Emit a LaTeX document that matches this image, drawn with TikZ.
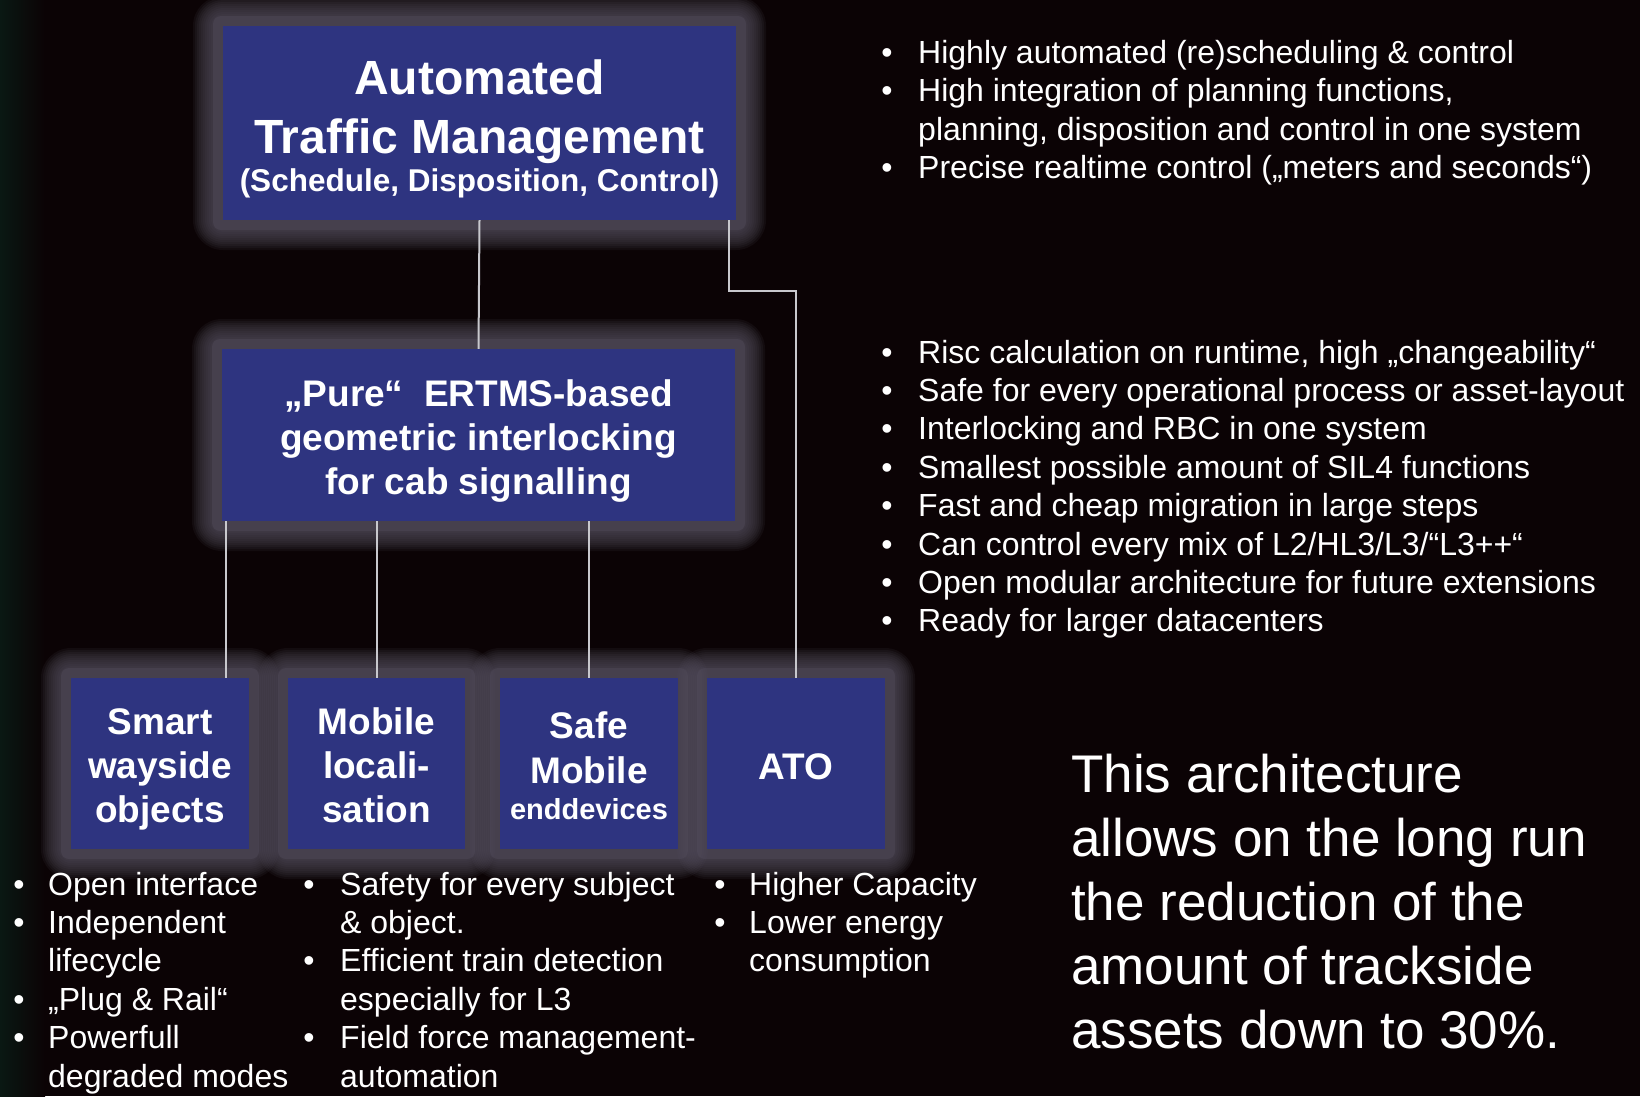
\documentclass[tikz,border=0pt]{standalone}
\usepackage{fontspec}
\setmainfont{Liberation Sans}
\definecolor{bgc}{RGB}{11,3,5}
\definecolor{boxblue}{RGB}{46,52,128}
\definecolor{glowc}{RGB}{84,78,94}
\definecolor{linec}{RGB}{200,200,205}
\definecolor{leftc}{RGB}{10,24,19}
\newcommand\glowrect[4]{%
  \foreach \r in {30,28,26,24,22,20,18,16,14,12}{%
    \fill[glowc,fill opacity=0.12,rounded corners=\r pt] ({#1-\r},{#2-\r}) rectangle ({#3+\r},{#4+\r});
  }%
  \fill[glowc,fill opacity=0.4,rounded corners=8pt] ({#1-10},{#2-10}) rectangle ({#3+10},{#4+10});
}
\tikzset{
  boxnode/.style={fill=boxblue,draw=none,inner sep=0pt},
  btxt/.style={text=white,inner sep=0pt,anchor=base,font=\bfseries\fontsize{37}{44}\selectfont},
  bullet/.style={text=white,inner sep=0pt,anchor=base,font=\fontsize{32}{38}\selectfont},
  ltxt/.style={text=white,inner sep=0pt,anchor=base west,font=\fontsize{32}{38}\selectfont},
  bigtxt/.style={text=white,inner sep=0pt,anchor=base west,font=\fontsize{53}{63}\selectfont},
  conn/.style={draw=linec,line width=2pt}
}
\begin{document}
\begin{tikzpicture}[x=1pt,y=-1pt]
\useasboundingbox (0,0) rectangle (1640,1096);
\fill[bgc] (0,0) rectangle (1640,1096);
\shade[left color=leftc,right color=bgc] (0,0) rectangle (45,1096);
% glows
\glowrect{223}{26}{736}{220}
\glowrect{222}{349}{735}{521}
\glowrect{71}{678}{249}{849}
\glowrect{288}{678}{465}{849}
\glowrect{500}{678}{678}{849}
\glowrect{707}{678}{885}{849}
% boxes
\node[boxnode,minimum width=513pt,minimum height=194pt] (top) at (479.5,123) {};
\node[boxnode,minimum width=513pt,minimum height=172pt] (mid) at (478.5,435) {};
\node[boxnode,minimum width=178pt,minimum height=171pt] (smart) at (160,763.5) {};
\node[boxnode,minimum width=177pt,minimum height=171pt] (mobile) at (376.5,763.5) {};
\node[boxnode,minimum width=178pt,minimum height=171pt] (safe) at (589,763.5) {};
\node[boxnode,minimum width=178pt,minimum height=171pt] (ato) at (796,763.5) {};
% connectors
\coordinate (bend) at (796,291);
\draw[conn] (top.south) -- (mid.north);
\draw[conn] ([xshift=-7pt]top.south east) |- (bend) -- (ato.north);
\draw[conn] ([xshift=4pt]mid.south west) -- ([xshift=4pt]mid.south west |- smart.north);
\draw[conn] (mid.south -| mobile.north) -- (mobile.north);
\draw[conn] (mid.south -| safe.north) -- (safe.north);
% box texts
\node[btxt,font=\bfseries\fontsize{48}{56}\selectfont] (t1) at (479.5,94) {Automated};
\node[btxt,font=\bfseries\fontsize{48}{56}\selectfont] (t2) at (479.5,153) {Traffic Management};
\node[btxt,font=\bfseries\fontsize{31.5}{38}\selectfont] (t3) at (479.5,191) {(Schedule, Disposition, Control)};
\node[btxt] (m1) at (478.5,406) {„Pure“\ \ ERTMS-based};
\node[btxt] (m2) at (478.5,450) {geometric interlocking};
\node[btxt] (m3) at (478.5,494) {for cab signalling};
\node[btxt] (s1) at (160,734) {Smart};
\node[btxt] (s2) at (160,778) {wayside};
\node[btxt] (s3) at (160,822) {objects};
\node[btxt] (l1) at (376.5,734) {Mobile};
\node[btxt] (l2) at (376.5,778) {locali-};
\node[btxt] (l3) at (376.5,822) {sation};
\node[btxt] (e1) at (589,738) {Safe};
\node[btxt] (e2) at (589,783) {Mobile};
\node[btxt,font=\bfseries\fontsize{29}{34}\selectfont] (e3) at (589,819) {enddevices};
\node[btxt] (a1) at (796,779) {ATO};
% top right bullets
\node[bullet] (ba1) at (887,63) {•};
\node[ltxt] (ta1) at (918,63) {Highly automated (re)scheduling \& control};
\node[bullet] (ba2) at (887,101.5) {•};
\node[ltxt] (ta2) at (918,101.5) {High integration of planning functions,};
\node[ltxt] (ta3) at (918,140) {planning, disposition and control in one system};
\node[bullet] (ba4) at (887,178.5) {•};
\node[ltxt] (ta4) at (918,178.5) {Precise realtime control („meters and seconds“)};
% middle right bullets
\node[bullet] (bb1) at (887,363) {•};
\node[ltxt] (tb1) at (918,363) {Risc calculation on runtime, high „changeability“};
\node[bullet] (bb2) at (887,401.4) {•};
\node[ltxt] (tb2) at (918,401.4) {Safe for every operational process or asset-layout};
\node[bullet] (bb3) at (887,439.8) {•};
\node[ltxt] (tb3) at (918,439.8) {Interlocking and RBC in one system};
\node[bullet] (bb4) at (887,478.2) {•};
\node[ltxt] (tb4) at (918,478.2) {Smallest possible amount of SIL4 functions};
\node[bullet] (bb5) at (887,516.6) {•};
\node[ltxt] (tb5) at (918,516.6) {Fast and cheap migration in large steps};
\node[bullet] (bb6) at (887,555) {•};
\node[ltxt] (tb6) at (918,555) {Can control every mix of L2/HL3/L3/“L3++“};
\node[bullet] (bb7) at (887,593.4) {•};
\node[ltxt] (tb7) at (918,593.4) {Open modular architecture for future extensions};
\node[bullet] (bb8) at (887,631.8) {•};
\node[ltxt] (tb8) at (918,631.8) {Ready for larger datacenters};
% bottom col 1
\node[bullet] (bc1) at (19,895) {•};
\node[ltxt] (tc1) at (48,895) {Open interface};
\node[bullet] (bc2) at (19,933.4) {•};
\node[ltxt] (tc2) at (48,933.4) {Independent};
\node[ltxt] (tc3) at (48,971.8) {lifecycle};
\node[bullet] (bc4) at (19,1010.2) {•};
\node[ltxt] (tc4) at (48,1010.2) {„Plug \& Rail“};
\node[bullet] (bc5) at (19,1048.6) {•};
\node[ltxt] (tc5) at (48,1048.6) {Powerfull};
\node[ltxt] (tc6) at (48,1087) {degraded modes};
% bottom col 2
\node[bullet] (bd1) at (309,895) {•};
\node[ltxt] (td1) at (340,895) {Safety for every subject};
\node[ltxt] (td2) at (340,933.4) {\& object.};
\node[bullet] (bd3) at (309,971.8) {•};
\node[ltxt] (td3) at (340,971.8) {Efficient train detection};
\node[ltxt] (td4) at (340,1010.2) {especially for L3};
\node[bullet] (bd5) at (309,1048.6) {•};
\node[ltxt] (td5) at (340,1048.6) {Field force management-};
\node[ltxt] (td6) at (340,1087) {automation};
% bottom col 3
\node[bullet] (be1) at (720,895) {•};
\node[ltxt] (te1) at (749,895) {Higher Capacity};
\node[bullet] (be2) at (720,933.4) {•};
\node[ltxt] (te2) at (749,933.4) {Lower energy};
\node[ltxt] (te3) at (749,971.8) {consumption};
% big text
\node[bigtxt] (g1) at (1071,792) {This architecture};
\node[bigtxt] (g2) at (1071,856) {allows on the long run};
\node[bigtxt] (g3) at (1071,920) {the reduction of the};
\node[bigtxt] (g4) at (1071,984) {amount of trackside};
\node[bigtxt] (g5) at (1071,1048) {assets down to 30\%.};
\end{tikzpicture}
\end{document}
